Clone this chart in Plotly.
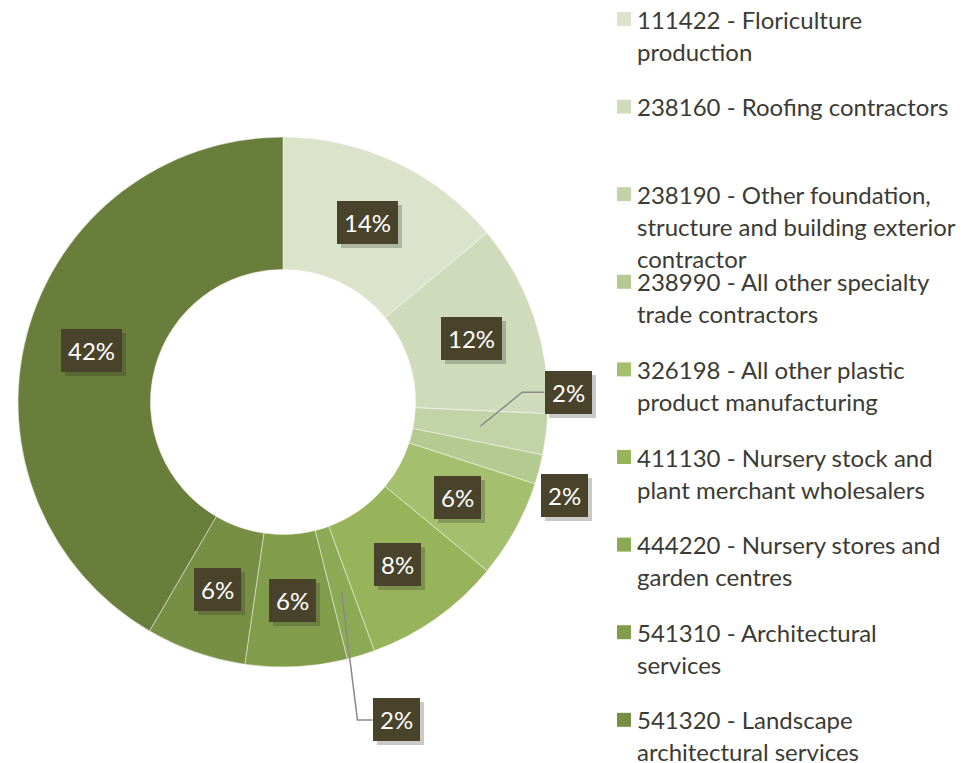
import math
import plotly.graph_objects as go

# ---------------- data ----------------
categories = [
    "111422 - Floriculture production",
    "238160 - Roofing contractors",
    "238190 - Other foundation, structure and building exterior contractor",
    "238990 - All other specialty trade contractors",
    "326198 - All other plastic product manufacturing",
    "411130 - Nursery stock and plant merchant wholesalers",
    "444220 - Nursery stores and garden centres",
    "541310 - Architectural services",
    "541320 - Landscape architectural services",
    "Other",
]
legend_lines = [
    ["111422 - Floriculture", "production"],
    ["238160 - Roofing contractors"],
    ["238190 - Other foundation,", "structure and building exterior", "contractor"],
    ["238990 - All other specialty", "trade contractors"],
    ["326198 - All other plastic", "product manufacturing"],
    ["411130 - Nursery stock and", "plant merchant wholesalers"],
    ["444220 - Nursery stores and", "garden centres"],
    ["541310 - Architectural", "services"],
    ["541320 - Landscape", "architectural services"],
    ["Other"],
]
values = [14.0, 11.7, 2.5, 1.8, 6.0, 8.4, 1.7, 6.2, 6.1, 41.6]
pct_labels = ["14%", "12%", "2%", "2%", "6%", "8%", "2%", "6%", "6%", "42%"]
colors = ["#dbe4cb", "#cfdbbb", "#c3d3a8", "#b5ca91", "#a4c06f", "#97b45a",
          "#8ca954", "#819c4b", "#778f44", "#6a7e3c"]

# ---------------- geometry ----------------
W, H = 980, 763
CX, CY, R = 283, 402, 265
HOLE = 0.5

def px(x, y):
    return x / W, 1 - y / H

fig = go.Figure(go.Pie(
    labels=categories,
    values=values,
    hole=HOLE,
    sort=False,
    direction="clockwise",
    rotation=0,
    marker=dict(colors=colors, line=dict(color="rgba(255,255,255,0.45)", width=1)),
    textinfo="none",
    hoverinfo="label+percent",
    showlegend=False,
    domain=dict(x=[(CX - R) / W, (CX + R) / W], y=[1 - (CY + R) / H, 1 - (CY - R) / H]),
))

# ---------------- data labels (boxes) ----------------
total = sum(values)
r_mid = (R + HOLE * R) / 2
# outer label: pixel offset of box centre from anchor, leader elbow length (None = no leader)
outer = {2: (88, -34, 22), 3: (89, 43, None), 6: (55, 128, 15)}
BOX_HALF_W = 24
box_color = "#4a432c"
FONT = "Lato, Open Sans, sans-serif"
annotations = []
shapes = []
cum = 0.0
for i, v in enumerate(values):
    mid = (cum + v / 2) / total * 2 * math.pi
    cum += v
    x = CX + r_mid * math.sin(mid)
    y = CY - r_mid * math.cos(mid)
    dx, dy, elbow = outer.get(i, (0, 0, None))
    bx, by = x + dx, y + dy
    if elbow is not None:
        left = bx - BOX_HALF_W
        pts = [(x, y), (left - elbow, by), (left, by)]
        path = "M " + " L ".join(f"{px(a, b)[0]},{px(a, b)[1]}" for a, b in pts)
        shapes.append(dict(type="path", xref="paper", yref="paper", path=path,
                           line=dict(color="#8a8a8a", width=1.5)))
    bxp, byp = px(bx, by)
    # shadow
    annotations.append(dict(
        x=bxp, y=byp, xref="paper", yref="paper", text=pct_labels[i],
        showarrow=False, xshift=4, yshift=-4, xanchor="center", yanchor="middle",
        font=dict(family=FONT, size=24, color="rgba(0,0,0,0)"),
        bgcolor="rgba(40,40,30,0.25)", borderpad=7, borderwidth=0,
    ))
    annotations.append(dict(
        x=bxp, y=byp, xref="paper", yref="paper", text=pct_labels[i],
        showarrow=False, xanchor="center", yanchor="middle",
        font=dict(family=FONT, size=24, color="white"),
        bgcolor=box_color, borderpad=7, borderwidth=0,
    ))

# ---------------- legend ----------------
LEG_X_SQ, LEG_X_TXT = 617, 635
LEG_Y0, LEG_STEP, LINE_STEP = 19, 87.6, 32
for i, lines in enumerate(legend_lines):
    y0 = LEG_Y0 + LEG_STEP * i
    shapes.append(dict(type="rect", xref="paper", yref="paper",
                       x0=LEG_X_SQ / W, x1=(LEG_X_SQ + 14) / W,
                       y0=1 - (y0 + 7) / H, y1=1 - (y0 - 7) / H,
                       fillcolor=colors[i], line=dict(width=0)))
    for j, line in enumerate(lines):
        xp, yp = px(LEG_X_TXT, y0 + j * LINE_STEP)
        annotations.append(dict(
            x=xp, y=yp, xref="paper", yref="paper", text=line, showarrow=False,
            xanchor="left", yanchor="middle",
            font=dict(family=FONT, size=24, color="#3b3b33"),
        ))

fig.update_layout(
    width=W, height=H,
    margin=dict(l=0, r=0, t=0, b=0),
    paper_bgcolor="white", plot_bgcolor="white",
    annotations=annotations, shapes=shapes,
    showlegend=False,
)
fig.write_html("out.html", config={"displayModeBar": False},
               post_script="document.body.style.margin='0';document.body.style.overflow='hidden';")
